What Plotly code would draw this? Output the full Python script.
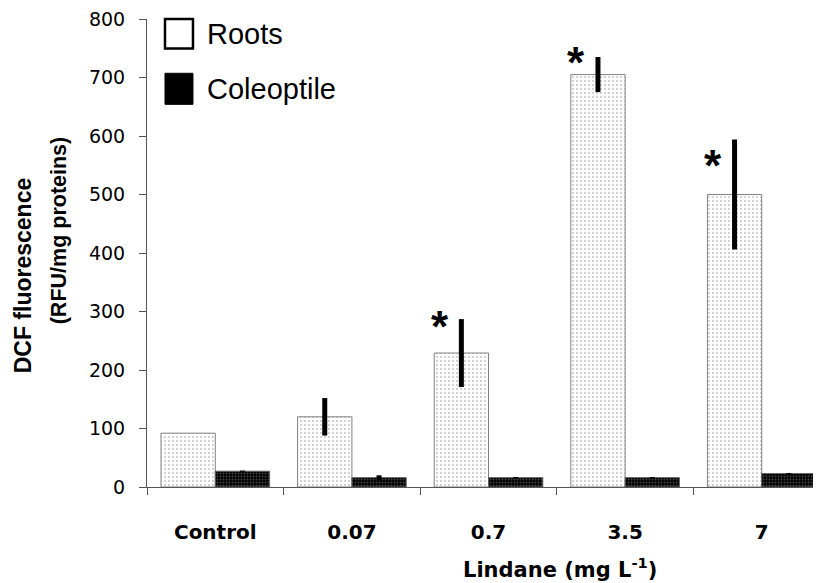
import plotly.graph_objects as go

categories = ["Control", "0.07", "0.7", "3.5", "7"]
roots = [92, 120, 229, 705, 500]
roots_err = [0, 32, 58, 30, 94]
coleoptile = [27, 16, 16, 16, 23]
coleoptile_err = [1, 4, 1, 1, 1]
star_cats = ["0.7", "3.5", "7"]
star_y = [281, 732, 557]
y_ticks = [0, 100, 200, 300, 400, 500, 600, 700, 800]

FONT = "Liberation Sans, Arial, sans-serif"
WIDE = "DejaVu Sans, Verdana, sans-serif"

# The page body adds an 8 px margin, so the figure is sized 8 px smaller.
W, H = 813, 575

fig = go.Figure()
fig.add_trace(go.Bar(
    x=categories, y=roots, name="Roots",
    marker=dict(color="white", line=dict(color="#808080", width=1),
                pattern=dict(shape=".", fgcolor="#8f8f8f", bgcolor="white",
                             size=4, solidity=0.22)),
    error_y=dict(type="data", array=roots_err, thickness=5, width=0, color="black"),
    showlegend=False,
))
fig.add_trace(go.Bar(
    x=categories, y=coleoptile, name="Coleoptile",
    marker=dict(color="black", line=dict(color="#606060", width=1),
                pattern=dict(shape=".", fgcolor="#8a8a8a", bgcolor="black",
                             size=3, solidity=0.3)),
    error_y=dict(type="data", array=coleoptile_err, thickness=5, width=0, color="black"),
    showlegend=False,
))

# significance asterisks (placed on the category index)
for c, yv in zip(star_cats, star_y):
    fig.add_annotation(x=categories.index(c), y=yv, xref="x", yref="y", text="<b>*</b>",
                       showarrow=False, xshift=-49, yshift=-4,
                       font=dict(family=FONT, size=44, color="black"))

# legend drawn manually
fig.add_shape(type="rect", xref="paper", yref="paper", x0=0.0267, x1=0.0682, y0=0.937, y1=1.0,
              line=dict(color="black", width=2.5), fillcolor="white")
fig.add_shape(type="rect", xref="paper", yref="paper", x0=0.0267, x1=0.0682, y0=0.8177, y1=0.884,
              line=dict(color="black", width=1), fillcolor="black")
fig.add_annotation(xref="paper", yref="paper", x=0.0865, y=0.968, text="Roots", showarrow=False,
                   xanchor="left", yanchor="middle", font=dict(family=FONT, size=29, color="black"))
fig.add_annotation(xref="paper", yref="paper", x=0.0865, y=0.851, text="Coleoptile", showarrow=False,
                   xanchor="left", yanchor="middle", font=dict(family=FONT, size=29, color="black"))

# axis titles
fig.add_annotation(xref="paper", yref="paper", x=(560 - 147) / 674, y=-(568 - 486.7) / 468,
                   text="<b>Lindane (mg L<sup>-1</sup>)</b>", showarrow=False,
                   xanchor="center", yanchor="middle", font=dict(family=WIDE, size=21, color="black"))
fig.add_annotation(xref="paper", yref="paper", x=-(147 - 23) / 674, y=(486.7 - 275) / 468,
                   text="<b>DCF fluorescence</b>", showarrow=False, textangle=-90,
                   xanchor="center", yanchor="middle", font=dict(family=FONT, size=23, color="black"))
fig.add_annotation(xref="paper", yref="paper", x=-(147 - 59) / 674, y=(486.7 - 230) / 468,
                   text="<b>(RFU/mg proteins)</b>", showarrow=False, textangle=-90,
                   xanchor="center", yanchor="middle", font=dict(family=FONT, size=21.5, color="black"))

fig.update_layout(
    width=W, height=H,
    margin=dict(l=139, r=0, t=11, b=96, autoexpand=False),
    paper_bgcolor="white", plot_bgcolor="white",
    barmode="group", bargap=0.205, bargroupgap=0,
    font=dict(family=FONT, color="black"),
    xaxis=dict(type="category", range=[-0.5, 4.434], showline=True, linecolor="#555", linewidth=1,
               ticks="outside", tickson="boundaries", ticklen=7, tickcolor="#555",
               tickfont=dict(family=WIDE, size=20, color="black"), ticklabelstandoff=27,
               showgrid=False, zeroline=False, automargin=False),
    yaxis=dict(range=[0, 800], tickvals=y_ticks, showline=True, linecolor="#555", linewidth=1,
               ticks="outside", ticklen=7, tickcolor="#555", ticklabelstandoff=10,
               ticklabeloverflow="allow",
               tickfont=dict(family=WIDE, size=19, color="black"),
               showgrid=False, zeroline=False, automargin=False),
)
fig.update_xaxes(tickprefix="<b>", ticksuffix="</b>")
fig.update_yaxes(tickprefix="<b>", ticksuffix="</b>")

fig.write_html("out.html")
